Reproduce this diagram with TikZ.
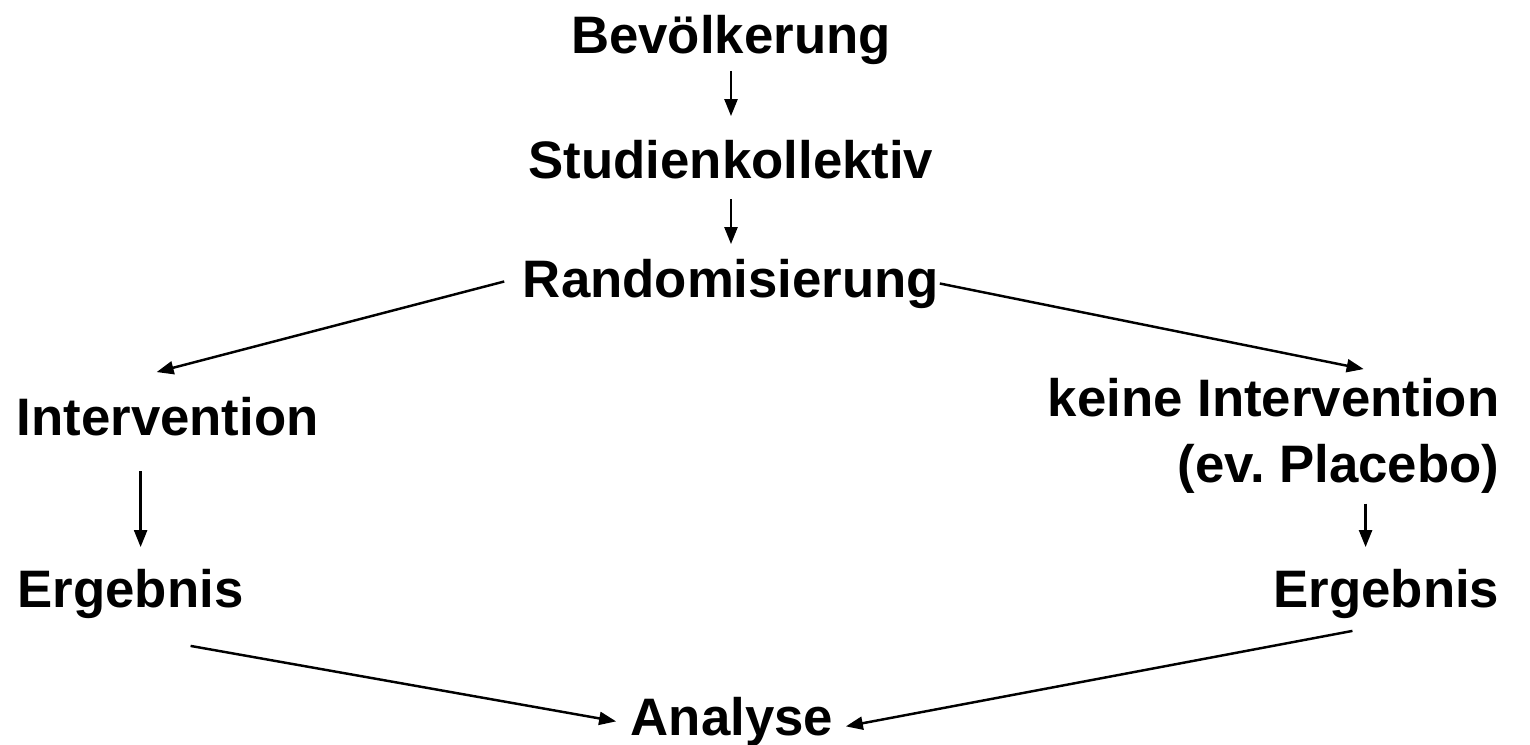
\documentclass[tikz,border=0pt]{standalone}
\usepackage{fontspec}
\setmainfont{Liberation Sans}
\usetikzlibrary{arrows.meta}

\tikzset{
  lbl/.style={inner sep=0pt,font=\fontsize{15}{18}\selectfont\bfseries},
  arr/.style={line width=0.7pt,-{Triangle[length=0.17cm,width=0.13cm]}}
}

\begin{document}
\begin{tikzpicture}[x=0.01cm,y=-0.01cm]
        \useasboundingbox (0,0) rectangle (1530,744);

        \coordinate (p1) at (731,53);
        \coordinate (p2) at (731,178);
        \coordinate (p3) at (731,297);
        \coordinate (p4) at (16,435);
        \coordinate (p5) at (1500,416);
        \coordinate (p6) at (1500,482);
        \coordinate (p7) at (17,607);
        \coordinate (p8) at (1500,607);
        \coordinate (p9) at (732,735);

        \node[lbl,anchor=base] (bev) at (p1) {Bevölkerung};
        \node[lbl,anchor=base] (stud) at (p2) {Studienkollektiv};
        \node[lbl,anchor=base] (rand) at (p3) {Randomisierung};
        \node[lbl,anchor=base west] (intv) at (p4) {Intervention};
        \node[lbl,anchor=base east] (keine) at (p5) {keine Intervention};
        \node[lbl,anchor=base east] (plac) at (p6) {(ev.\ Placebo)};
        \node[lbl,anchor=base west] (erg1) at (p7) {Ergebnis};
        \node[lbl,anchor=base east] (erg2) at (p8) {Ergebnis};
        \node[lbl,anchor=base] (ana) at (p9) {Analyse};

        \draw[arr,shorten <=0.06cm,shorten >=0.23cm] (bev.south) -- (stud.north);
        \draw[arr,shorten <=0.2cm,shorten >=0.14cm] (stud.south) -- (rand.north);
        \draw[arr] ([xshift=-0.18cm,yshift=0.02cm]rand.west) -- ([xshift=-0.11cm,yshift=0.24cm]intv.north);
        \draw[arr] (rand.east) -- ([xshift=0.9cm,yshift=0.08cm]keine.north);
        \draw[arr,shorten >=0.21cm] ([xshift=-0.27cm,yshift=-0.35cm]intv.south) coordinate (a1) -- (a1 |- erg1.north);
        \draw[arr,shorten >=0.21cm] ([xshift=0.27cm,yshift=-0.1cm]plac.south) coordinate (a2) -- (a2 |- erg2.north);
        \draw[arr] ([xshift=0.6cm,yshift=-0.27cm]erg1.south) -- ([xshift=-0.14cm]ana.west);
        \draw[arr] ([xshift=-0.34cm,yshift=-0.12cm]erg2.south) -- ([xshift=0.12cm,yshift=-0.05cm]ana.east);
    \end{tikzpicture}
\end{document}
